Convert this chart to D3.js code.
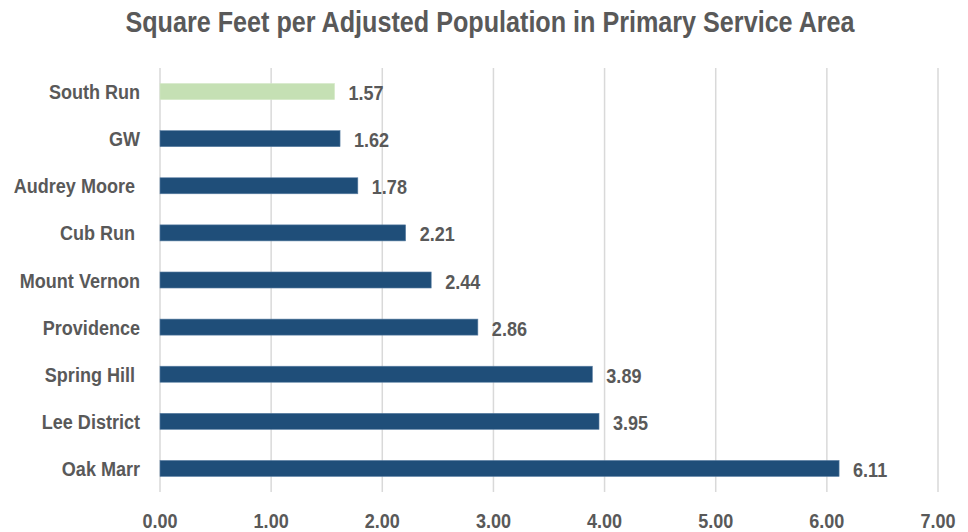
<!DOCTYPE html>
<html lang="en">
  <head>
    <meta charset="utf-8" />
    <title>Square Feet per Adjusted Population</title>
    <script type="text/javascript" src="https://d3js.org/d3.v7.min.js"></script>
    <style>
      body { margin: 0; background: #fff; }
      text { font-family: "Liberation Sans", Arial, sans-serif; font-weight: bold; fill: #595959; white-space: pre; }
    </style>
  </head>
  <body>
    <div id="chart"></div>
    <script type="text/javascript">
      // data
      const centers = ["South Run", "GW", "Audrey Moore ", "Cub Run ", "Mount Vernon", "Providence", "Spring Hill ", "Lee District", "Oak Marr"];
      const sqft = [1.57, 1.62, 1.78, 2.21, 2.44, 2.86, 3.89, 3.95, 6.11];
      const xTicks = [0, 1, 2, 3, 4, 5, 6, 7];
      const highlight = "South Run";

      const width = 968;
      const height = 532;
      const margin = { top: 68, right: 30, bottom: 40, left: 160 };
      const narrow = 0.88; // squeeze text to mimic a narrow face

      const svg = d3.select("#chart").append("svg")
        .attr("width", width)
        .attr("height", height);

      const place = (x, y) => `translate(${x},${y}) scale(${narrow},1)`;

      // title
      svg.append("text")
        .attr("transform", place(490, 32))
        .attr("text-anchor", "middle")
        .style("font-size", "28.6px")
        .text("Square Feet per Adjusted Population in Primary Service Area");

      // scales
      const x = d3.scaleLinear().domain([0, 7]).range([margin.left, 938]);
      const y = d3.scaleBand().domain(centers).range([margin.top, 492]).paddingInner(0.66).paddingOuter(0.33);

      // gridlines
      svg.append("g").selectAll("line")
        .data(xTicks)
        .join("line")
        .attr("x1", d => x(d)).attr("x2", d => x(d))
        .attr("y1", margin.top).attr("y2", 492)
        .attr("stroke", "#d9d9d9")
        .attr("stroke-width", 1.5);

      // x tick labels
      svg.append("g").selectAll("text")
        .data(xTicks)
        .join("text")
        .attr("transform", d => place(x(d), 528))
        .attr("text-anchor", "middle")
        .style("font-size", "20.5px")
        .text(d => d3.format(".2f")(d));

      // category labels
      svg.append("g").selectAll("text")
        .data(centers)
        .join("text")
        .attr("transform", d => place(140, y(d) + y.bandwidth() / 2 + 7.5))
        .attr("text-anchor", "end")
        .style("font-size", "20.5px")
        .text(d => d);

      // bars
      svg.append("g").selectAll("rect")
        .data(centers)
        .join("rect")
        .attr("x", x(0))
        .attr("y", (d) => y(d))
        .attr("width", (d, i) => x(sqft[i]) - x(0))
        .attr("height", y.bandwidth())
        .attr("fill", d => d === highlight ? "#c5e0b4" : "#1f4e79")
        .attr("stroke", d => d === highlight ? "#d3e8c6" : "#5a7fa3")
        .attr("stroke-width", 0.6);

      // value labels
      svg.append("g").selectAll("text")
        .data(centers)
        .join("text")
        .attr("transform", (d, i) => place(x(sqft[i]) + 14, y(d) + y.bandwidth() / 2 + 8.5))
        .style("font-size", "20.5px")
        .text((d, i) => sqft[i].toFixed(2));
    </script>
  </body>
</html>
